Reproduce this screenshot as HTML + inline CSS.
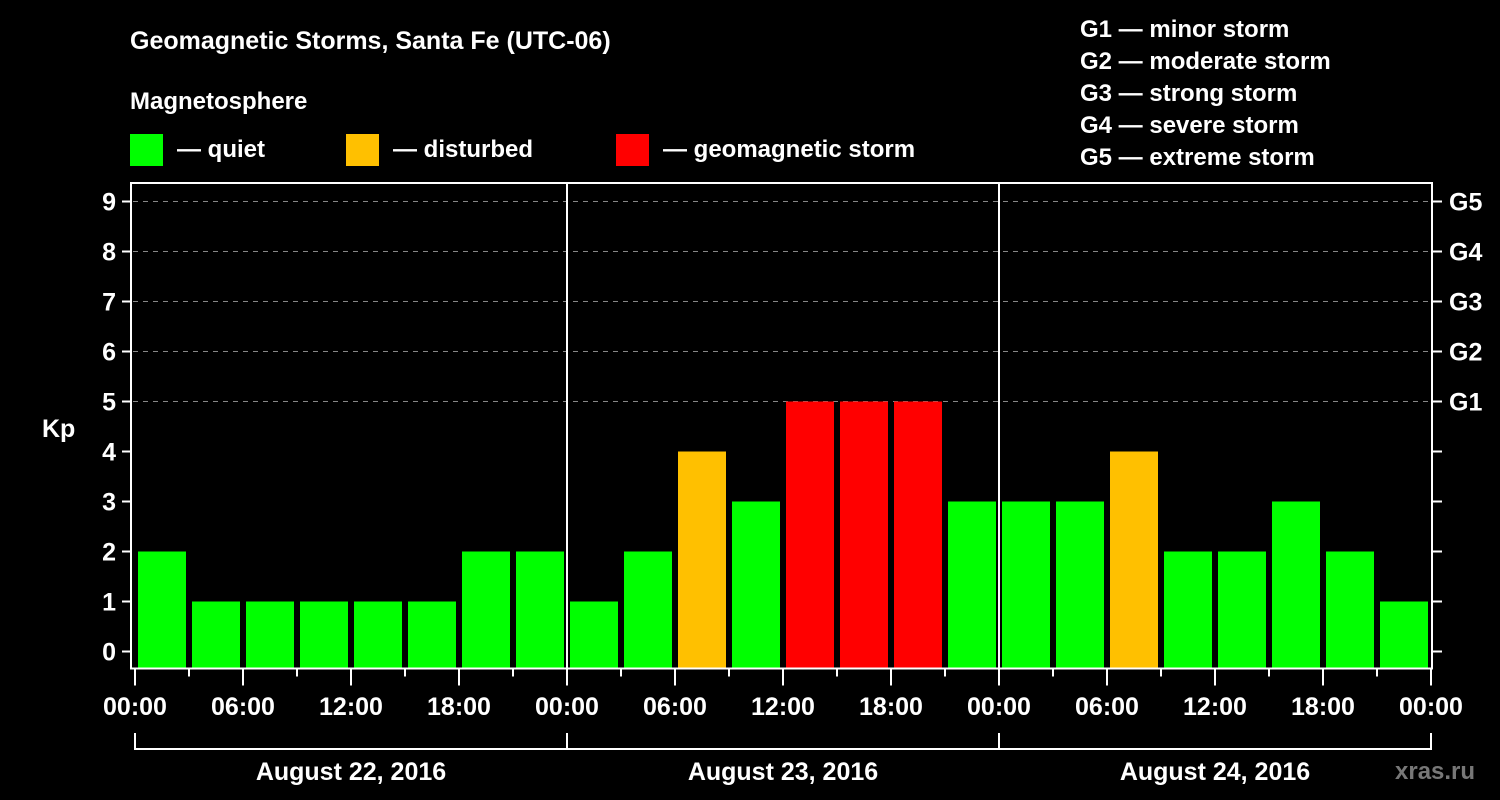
<!DOCTYPE html>
<html><head><meta charset="utf-8"><style>
body{margin:0;background:#000;}
svg{display:block;font-family:"Liberation Sans",sans-serif;font-weight:bold;}
</style></head><body>
<svg id="c" width="1500" height="800">
<rect width="1500" height="800" fill="#000"/>
<text x="130" y="49" fill="#fff" font-size="25">Geomagnetic Storms, Santa Fe (UTC-06)</text>
<text x="130" y="109" fill="#fff" font-size="24">Magnetosphere</text>
<g><rect x="130" y="134" width="33" height="32" fill="#00ff00"/><text x="177" y="157" fill="#fff" font-size="24">— quiet</text></g>
<g><rect x="346" y="134" width="33" height="32" fill="#ffc000"/><text x="393" y="157" fill="#fff" font-size="24">— disturbed</text></g>
<g><rect x="616" y="134" width="33" height="32" fill="#ff0000"/><text x="663" y="157" fill="#fff" font-size="24">— geomagnetic storm</text></g>
<g fill="#fff" font-size="24">
<text x="1080" y="37">G1 — minor storm</text>
<text x="1080" y="69">G2 — moderate storm</text>
<text x="1080" y="101">G3 — strong storm</text>
<text x="1080" y="133">G4 — severe storm</text>
<text x="1080" y="165">G5 — extreme storm</text>
</g>
<text x="42" y="437" fill="#fff" font-size="25">Kp</text>
<text x="1395" y="779" fill="#777" font-size="24">xras.ru</text>
<g id="plot"></g>
</svg>
<script>
const kpValues=[2,1,1,1,1,1,2,2, 1,2,4,3,5,5,5,3, 3,3,4,2,2,3,2,1];
const dayLabels=["August 22, 2016","August 23, 2016","August 24, 2016"];
const yTicks=[0,1,2,3,4,5,6,7,8,9];
const gLabels=["G1","G2","G3","G4","G5"];
const hourLabels=["00:00","06:00","12:00","18:00"];
const NS="http://www.w3.org/2000/svg";
const g=document.getElementById('plot');
const X0=135,SLOT=54,Y0=651.5,UNIT=50,BOTTOM=667.5,TOP=183,XR=1432;
const xs=i=>X0+SLOT*i;
const ys=v=>Y0-UNIT*v;
function mk(t,a){const e=document.createElementNS(NS,t);for(const k in a)e.setAttribute(k,a[k]);g.appendChild(e);return e;}
// grid
yTicks.forEach(v=>{
 if(v>=5){const l=mk('line',{x1:133,x2:XR,y1:ys(v),y2:ys(v),stroke:'#888','stroke-dasharray':'5,5','stroke-width':1});
 
 }
 const t=mk('line',{x1:122,x2:131,y1:ys(v),y2:ys(v),stroke:'#fff','stroke-width':2});
 
 
 const rt=mk('line',{x1:XR,x2:XR+10,y1:ys(v),y2:ys(v),stroke:'#fff','stroke-width':2});
 
 
 const tx=mk('text',{x:116,y:ys(v)+9,'text-anchor':'end',fill:'#fff','font-size':25});
 tx.textContent=v;
 
 
});
gLabels.forEach((s,i)=>{
 const t=mk('text',{x:1449,y:ys(5+i)+9,fill:'#fff','font-size':25});t.textContent=s;
 
 
});
// bars
kpValues.forEach((v,i)=>{
 const col=v>=5?'#ff0000':(v>=4?'#ffc000':'#00ff00');
 const r=mk('rect',{x:xs(i)+3,y:ys(v),width:48,height:BOTTOM-ys(v),fill:col});
 
 
});
// frame
const fr=mk('path',{d:`M131 ${BOTTOM+1} V${TOP} H${XR} V${BOTTOM+1} H130`,fill:'none',stroke:'#fff','stroke-width':2});


for(let d=1;d<dayLabels.length;d++){
 const l=mk('line',{x1:xs(8*d),x2:xs(8*d),y1:TOP,y2:BOTTOM,stroke:'#fff','stroke-width':2});
 
 
}
// x ticks
for(let i=0;i<=kpValues.length;i++){
 const major=i%2===0;
 const t=mk('line',{x1:xs(i),x2:xs(i),y1:BOTTOM,y2:BOTTOM+(major?18:9),stroke:'#fff','stroke-width':2});
 
 
 if(major){const tx=mk('text',{x:xs(i),y:715,'text-anchor':'middle',fill:'#fff','font-size':25});
 tx.textContent=hourLabels[(i/2)%4];
 
 }
}
// day brackets
const br=mk('path',{d:`M${xs(0)} 733 V749 H${xs(24)} V733 M${xs(8)} 733 V749 M${xs(16)} 733 V749`,fill:'none',stroke:'#fff','stroke-width':2});


dayLabels.forEach((s,d)=>{
 const t=mk('text',{x:xs(8*d+4),y:780,'text-anchor':'middle',fill:'#fff','font-size':25});t.textContent=s;
 
 
});
</script>
</body></html>
